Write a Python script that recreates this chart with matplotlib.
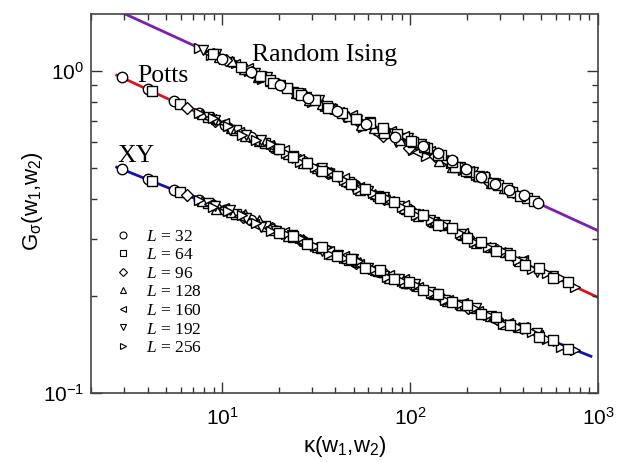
import numpy as np
import matplotlib
matplotlib.use('Agg')
from matplotlib import pyplot as plt

# valores (kappa, G) para cada L
L_values = [32, 64, 96, 128, 160, 192, 256]
markers = ['o', 's', 'D', '^', '<', 'v', '>']

# Potts e XY usam os mesmos kappa
kappa_pxy = {
    32: [2.92, 4.01, 5.50, 7.55, 10.4, 14.3, 19.5, 26.9, 36.9, 50.7, 69.5, 95.5],
    64: [4.20, 5.94, 8.39, 11.9, 16.8, 23.8, 33.7, 47.5, 67.3, 95.3, 134.6, 190.5],
    96: [6.50, 9.18, 12.9, 18.3, 25.8, 36.5, 51.4, 72.6, 102.6, 144.5, 204.2, 288.4],
    128: [7.76, 11.1, 15.7, 22.4, 31.9, 45.5, 64.9, 92.3, 131.5, 187.1, 266.7, 380.2],
    160: [8.51, 12.3, 17.7, 25.5, 36.8, 53.1, 76.7, 110.7, 159.6, 230.1, 331.9, 478.6],
    192: [9.12, 13.3, 19.4, 28.2, 41.1, 60.0, 87.5, 127.4, 185.8, 270.4, 394.5, 575.4],
    256: [7.50, 10.7, 15.2, 21.8, 31.0, 44.3, 63.1, 90.2, 128.5, 183.2, 261.2, 373.3, 532.1, 758.6],
}
G_potts = {
    32: [0.953, 0.875, 0.803, 0.737, 0.677, 0.622, 0.571, 0.524, 0.481, 0.442, 0.406, 0.373],
    64: [0.864, 0.786, 0.717, 0.653, 0.595, 0.542, 0.493, 0.450, 0.410, 0.373, 0.340, 0.310],
    96: [0.768, 0.700, 0.638, 0.581, 0.530, 0.483, 0.440, 0.401, 0.366, 0.333, 0.304, 0.277],
    128: [0.732, 0.666, 0.605, 0.550, 0.500, 0.455, 0.414, 0.376, 0.342, 0.311, 0.283, 0.257],
    160: [0.714, 0.647, 0.587, 0.531, 0.481, 0.437, 0.395, 0.358, 0.325, 0.294, 0.267, 0.242],
    192: [0.701, 0.633, 0.573, 0.517, 0.467, 0.422, 0.381, 0.345, 0.312, 0.282, 0.255, 0.230],
    256: [0.739, 0.672, 0.611, 0.555, 0.504, 0.458, 0.417, 0.378, 0.344, 0.313, 0.284, 0.258, 0.235, 0.213],
}
G_xy = {
    32: [0.496, 0.461, 0.428, 0.397, 0.369, 0.343, 0.319, 0.296, 0.275, 0.255, 0.237, 0.220],
    64: [0.456, 0.421, 0.388, 0.358, 0.330, 0.304, 0.281, 0.259, 0.239, 0.220, 0.203, 0.187],
    96: [0.412, 0.380, 0.351, 0.324, 0.299, 0.275, 0.254, 0.235, 0.217, 0.200, 0.183, 0.170],
    128: [0.395, 0.364, 0.343, 0.308, 0.284, 0.262, 0.241, 0.221, 0.204, 0.188, 0.173, 0.160],
    160: [0.387, 0.355, 0.326, 0.299, 0.275, 0.252, 0.232, 0.213, 0.195, 0.179, 0.165, 0.151],
    192: [0.380, 0.348, 0.319, 0.292, 0.268, 0.245, 0.225, 0.206, 0.188, 0.173, 0.158, 0.145],
    256: [0.398, 0.367, 0.338, 0.311, 0.286, 0.263, 0.242, 0.222, 0.205, 0.189, 0.174, 0.160, 0.147, 0.136],
}
# segundo conjunto de pontos (L grandes), Potts e XY
kappa_pxy_b = {
    128: [9.27, 13.2, 18.8, 26.8, 38.1, 54.3, 77.4, 110.2, 157.0, 223.4, 318.4],
    160: [10.2, 14.8, 21.3, 30.7, 44.3, 63.8, 92.3, 133.0, 191.9, 276.7, 399.0],
    192: [11.0, 16.1, 23.4, 34.1, 49.7, 72.4, 105.7, 153.8, 224.4, 326.6, 476.4],
    256: [8.95, 12.8, 18.2, 26.0, 37.1, 52.8, 75.5, 107.6, 153.5, 218.8, 312.6, 445.7, 635.3],
}
G_potts_b = {
    128: [0.708, 0.626, 0.586, 0.516, 0.484, 0.428, 0.401, 0.354, 0.331, 0.293, 0.274],
    160: [0.687, 0.607, 0.566, 0.500, 0.465, 0.409, 0.382, 0.338, 0.314, 0.276, 0.258],
    192: [0.656, 0.611, 0.536, 0.498, 0.437, 0.407, 0.358, 0.333, 0.293, 0.272, 0.238],
    256: [0.712, 0.631, 0.591, 0.521, 0.487, 0.430, 0.403, 0.356, 0.333, 0.294, 0.275, 0.243, 0.227],
}
G_xy_b = {
    128: [0.373, 0.358, 0.320, 0.300, 0.269, 0.255, 0.228, 0.215, 0.193, 0.183, 0.164],
    160: [0.376, 0.335, 0.317, 0.283, 0.267, 0.238, 0.225, 0.201, 0.190, 0.169, 0.160],
    192: [0.369, 0.328, 0.310, 0.276, 0.260, 0.231, 0.218, 0.194, 0.183, 0.163, 0.153],
    256: [0.378, 0.357, 0.319, 0.302, 0.270, 0.256, 0.229, 0.216, 0.194, 0.184, 0.164, 0.155, 0.139],
}
# quadrados densos (faixa central)
kappa_sq = [19.95, 23.8, 28.4, 34.0, 40.6, 48.4, 57.8, 69.0, 82.4, 98.4, 117.5,
            140.3, 167.5, 200.0, 238.8, 285.1, 340.4, 406.4, 485.3, 579.4, 691.8]
G_potts_sq = [0.572, 0.538, 0.519, 0.489, 0.472, 0.445, 0.430, 0.404, 0.391, 0.367, 0.356,
              0.333, 0.324, 0.303, 0.295, 0.275, 0.268, 0.250, 0.244, 0.228, 0.221]
G_xy_sq = [0.314, 0.307, 0.289, 0.283, 0.266, 0.260, 0.245, 0.240, 0.225, 0.221, 0.208,
           0.203, 0.191, 0.187, 0.176, 0.172, 0.162, 0.159, 0.149, 0.146, 0.137]

kappa_ising = {
    32: [10.0, 14.2, 20.2, 28.7, 40.8, 58.1, 82.6, 117.5, 167.1, 237.1, 337.3, 479.7],
    64: [8.91, 12.6, 17.9, 25.4, 36.1, 51.2, 72.6, 103.0, 145.9, 207.0, 293.8, 416.9],
    96: [10.5, 14.4, 19.9, 27.4, 37.7, 51.9, 71.6, 98.6, 135.8, 187.1, 257.6, 354.8],
    128: [9.55, 13.1, 18.0, 24.8, 34.1, 46.9, 64.4, 88.5, 121.9, 167.5, 230.1, 316.2],
    160: [8.51, 11.7, 16.1, 22.1, 30.4, 41.8, 57.4, 78.9, 108.6, 149.3, 205.1, 281.8],
    192: [7.94, 10.9, 14.9, 20.4, 27.9, 38.2, 52.2, 71.6, 97.9, 134.0, 183.7, 251.2],
    256: [7.50, 10.2, 13.9, 18.9, 25.8, 35.2, 47.9, 65.2, 88.7, 120.8, 164.4, 223.9],
}
G_ising = {
    32: [1.091, 0.993, 0.904, 0.823, 0.750, 0.682, 0.621, 0.582, 0.530, 0.469, 0.427, 0.388],
    64: [1.126, 1.025, 0.934, 0.851, 0.775, 0.706, 0.643, 0.603, 0.549, 0.486, 0.443, 0.403],
    96: [1.078, 0.990, 0.909, 0.834, 0.766, 0.703, 0.626, 0.574, 0.544, 0.499, 0.458, 0.421],
    128: [1.105, 1.015, 0.932, 0.856, 0.786, 0.722, 0.664, 0.610, 0.582, 0.504, 0.472, 0.434],
    160: [1.139, 1.047, 0.962, 0.883, 0.811, 0.745, 0.684, 0.648, 0.560, 0.530, 0.487, 0.447],
    192: [1.161, 1.068, 0.981, 0.903, 0.830, 0.763, 0.702, 0.645, 0.617, 0.557, 0.502, 0.461],
    256: [1.179, 1.086, 1.000, 0.920, 0.848, 0.780, 0.718, 0.662, 0.609, 0.544, 0.517, 0.476],
}
kappa_ising_b = {
    32: [140.0, 199.1, 283.1, 401.8],
    64: [122.5, 173.8, 246.6, 349.9],
    128: [11.2, 15.4, 21.2, 29.1, 40.0, 55.0, 75.5, 104.0, 142.9, 196.3, 269.8],
    160: [9.98, 13.7, 18.9, 25.9, 35.6, 49.0, 67.3, 92.7, 127.4, 175.0, 240.4],
    192: [9.29, 12.7, 17.4, 23.8, 32.7, 44.7, 61.2, 83.8, 114.6, 157.0, 214.8],
    256: [8.75, 11.9, 16.2, 22.1, 30.1, 41.0, 55.8, 76.0, 103.5, 140.9, 191.9],
}
G_ising_b = {
    32: [0.555, 0.496, 0.444, 0.411],
    64: [0.575, 0.504, 0.469, 0.419],
    128: [1.075, 0.958, 0.906, 0.812, 0.768, 0.678, 0.655, 0.602, 0.525, 0.498, 0.448],
    160: [1.081, 1.019, 0.908, 0.854, 0.761, 0.728, 0.636, 0.626, 0.564, 0.498, 0.472],
    192: [1.125, 1.009, 0.955, 0.857, 0.812, 0.717, 0.693, 0.599, 0.592, 0.519, 0.486],
    256: [1.121, 1.058, 0.945, 0.892, 0.797, 0.763, 0.668, 0.654, 0.567, 0.550, 0.491],
}
kappa_ising_sq = [15.8, 18.7, 22.2, 26.2, 31.0, 36.7, 43.4, 51.4, 60.8, 71.9, 85.1,
                  100.7, 119.1, 140.9, 166.7, 197.2, 233.3, 276.1, 326.6, 386.4, 457.1]
G_ising_sq = [0.965, 0.919, 0.886, 0.840, 0.810, 0.768, 0.741, 0.709, 0.688, 0.664, 0.635,
              0.607, 0.580, 0.549, 0.520, 0.490, 0.472, 0.448, 0.432, 0.410, 0.394]

# retas de ajuste (extremos)
fit_ising_k = [2.74, 1000]
fit_ising_G = [1.542, 0.319]
fit_potts_k = [2.74, 1000]
fit_potts_G = [0.969, 0.198]
fit_xy_k = [2.74, 917]
fit_xy_G = [0.502, 0.130]

plt.rcParams['font.family'] = ['Liberation Sans', 'DejaVu Sans']
plt.rcParams['mathtext.fontset'] = 'custom'
plt.rcParams['mathtext.rm'] = 'Liberation Sans'
plt.rcParams['mathtext.it'] = 'Liberation Serif:italic'

fig = plt.figure(figsize=(6.22, 4.62), dpi=100)
ax = fig.add_axes([0.1463, 0.1494, 0.8151, 0.8203])

ax.plot(fit_ising_k, fit_ising_G, color='#7a1fb0', lw=2, zorder=1)
ax.plot(fit_potts_k, fit_potts_G, color='#d8141e', lw=2, zorder=1)
ax.plot(fit_xy_k, fit_xy_G, color='#1414a8', lw=2, zorder=1)

ms = 7.5
estilo = dict(ls='none', mfc='white', mec='black', mew=1.0, zorder=2)


def tamanho(m):
    return ms * 0.8 if m == 'D' else ms


for L, m in zip(L_values, markers):
    ax.plot(kappa_pxy[L], G_potts[L], marker=m, ms=tamanho(m), **estilo)
    ax.plot(kappa_pxy[L], G_xy[L], marker=m, ms=tamanho(m), **estilo)
    if L in kappa_pxy_b:
        ax.plot(kappa_pxy_b[L], G_potts_b[L], marker=m, ms=tamanho(m), **estilo)
        ax.plot(kappa_pxy_b[L], G_xy_b[L], marker=m, ms=tamanho(m), **estilo)
ax.plot(kappa_sq, G_potts_sq, marker='s', ms=ms, **estilo)
ax.plot(kappa_sq, G_xy_sq, marker='s', ms=ms, **estilo)

for L, m in list(zip(L_values, markers))[::-1]:
    ax.plot(kappa_ising[L], G_ising[L], marker=m, ms=tamanho(m), **estilo)
    if L in kappa_ising_b:
        ax.plot(kappa_ising_b[L], G_ising_b[L], marker=m, ms=tamanho(m), **estilo)
    if L == 64:
        ax.plot(kappa_ising_sq, G_ising_sq, marker='s', ms=ms, **estilo)

# legenda
handles = []
for L, m in zip(L_values, markers):
    h, = ax.plot([], [], ls='none', marker=m, ms=5 if m != 'D' else 4.2,
                 mfc='white', mec='black', mew=0.8, label=r'$L$ = %d' % L)
    handles.append(h)
ax.legend(handles=handles, loc='upper left', bbox_to_anchor=(0.042, 0.434),
          frameon=False, prop={'family': 'Liberation Serif', 'size': 12.5},
          labelspacing=0.14, handletextpad=0.75, handlelength=1.2,
          borderaxespad=0, borderpad=0)

ax.set_xscale('log')
ax.set_yscale('log')
ax.set_xlim(2, 1000)
ax.set_ylim(0.1, 1.5)

ax.text(0.3176, 0.876, 'Random Ising', transform=ax.transAxes,
        family='Liberation Serif', fontsize=18.5, va='baseline')
ax.text(0.0907, 0.8206, 'Potts', transform=ax.transAxes,
        family='Liberation Serif', fontsize=18.5, va='baseline')
ax.text(0.0513, 0.6095, 'XY', transform=ax.transAxes,
        family='Liberation Serif', fontsize=18.5, va='baseline')

ax.set_xlabel(r'κ(w$_\mathrm{1}$,w$_\mathrm{2}$)', fontsize=16, labelpad=4)
ax.set_ylabel(r'G$_\mathrm{σ}$(w$_\mathrm{1}$,w$_\mathrm{2}$)', fontsize=16)
ax.yaxis.set_label_coords(-0.091, 0.507)

ax.tick_params(which='both', direction='in', top=True, right=True, colors='#333333')
ax.tick_params(which='major', length=8, width=1, labelsize=15)
ax.tick_params(which='minor', length=4.5, width=1)
ax.tick_params(axis='x', which='major', pad=10)
ax.tick_params(axis='y', which='major', pad=5)
ax.tick_params(labelcolor='black')
for s in ax.spines.values():
    s.set_linewidth(1.2)
    s.set_color('#444444')

fig.savefig('out.png', dpi=100)
